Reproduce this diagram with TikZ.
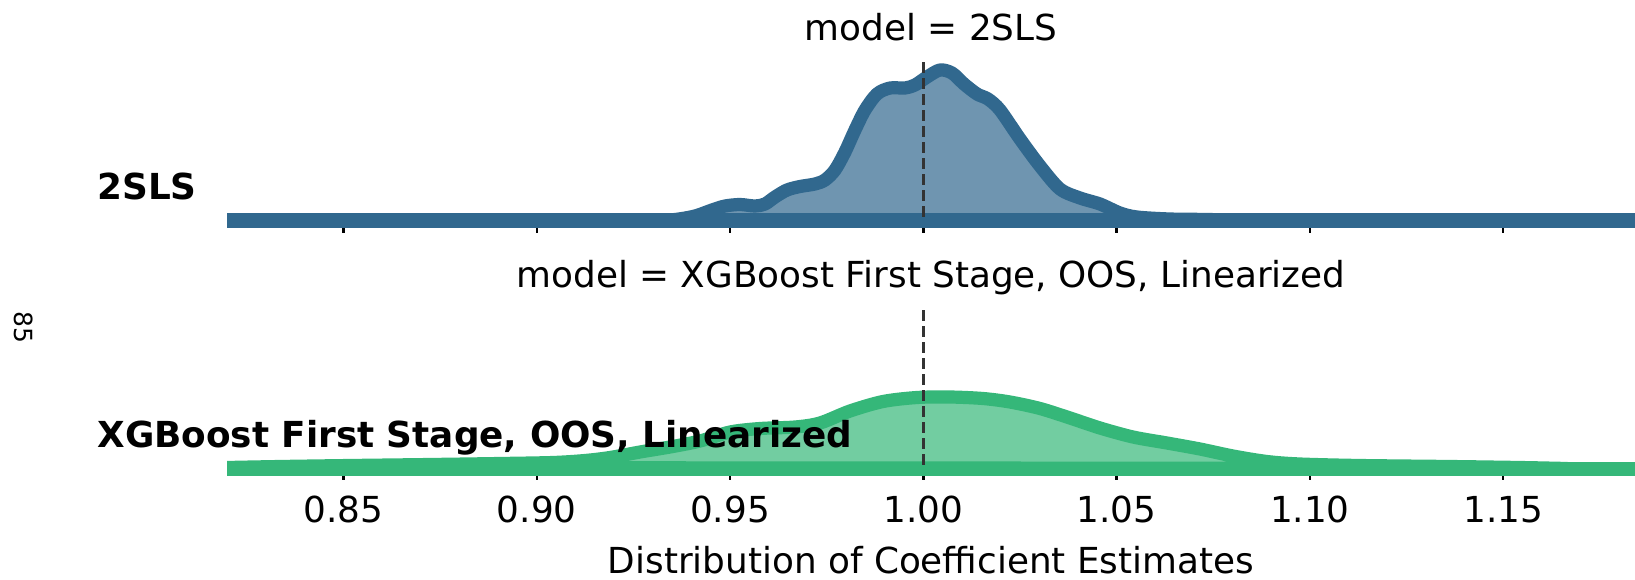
\documentclass[tikz,border=0pt]{standalone}
\usepackage{fontspec}
\setmainfont{DejaVu Sans}
\usetikzlibrary{positioning}
\definecolor{ridgeblue}{HTML}{31688E}
\definecolor{ridgebluefill}{HTML}{6F95B0}
\definecolor{ridgegreen}{HTML}{35B779}
\definecolor{ridgegreenfill}{HTML}{72CDA1}
\definecolor{refgray}{HTML}{333333}
\tikzset{
  font=\fontsize{17.9}{21}\selectfont,
  paneltitle/.style={anchor=base, inner sep=0pt},
  rowlabel/.style={anchor=base west, inner sep=0pt, font=\fontsize{17.9}{21}\selectfont\bfseries},
  ticklabel/.style={anchor=base, inner sep=0pt},
  axislabel/.style={anchor=base, inner sep=0pt},
  pagenum/.style={rotate=-90, inner sep=0pt, font=\fontsize{12.5}{15}\selectfont},
  tickmark/.style={draw=black, line width=1.2pt},
  kdeblue/.style={draw=ridgeblue, fill=ridgebluefill, line width=6.6pt, line join=round},
  kdegreen/.style={draw=ridgegreen, fill=ridgegreenfill, line width=6.6pt, line join=round},
  floorblue/.style={draw=ridgeblue, line width=7.25pt},
  floorgreen/.style={draw=ridgegreen, line width=7.25pt},
  refline/.style={draw=refgray, line width=1.5pt, dash pattern=on 5.5pt off 2.5pt}
}
\begin{document}
\begin{tikzpicture}[x=0.5pt,y=-0.5pt]
\useasboundingbox (0,0) rectangle (1635,579);

% Panel titles.
\node[paneltitle] (ttop) at (931,40) {model = 2SLS};
\node[paneltitle] (tbot) at (931,287) {model = XGBoost First Stage, OOS, Linearized};

% Tick marks, hidden under the ridge floors except their lower ends.
\foreach \x in {343.4,536.7,730.0,923.3,1116.6,1309.9,1503.2} {
  \draw[tickmark] (\x,220.5) -- (\x,233);
  \draw[tickmark] (\x,469) -- (\x,480);
}

\begin{scope}
\clip (227,0) rectangle (1635,579);
% 2SLS ridge.
\filldraw[kdeblue] plot[smooth] coordinates {(655,220.5) (675,219.5) (695,216) (712,210) (725,206)
  (740,204.5) (755,206) (765,204) (775,197) (787,190) (800,186.5) (815,184) (825,180) (835,170)
  (845,152) (855,130) (865,110) (877,94) (890,88) (905,88) (915,85) (927,77) (940,70) (952,73)
  (964,84) (977,94) (988,99) (1000,110) (1020,139) (1040,166) (1060,189) (1080,198) (1100,204)
  (1120,213) (1137,217) (1170,219) (1210,219.5) (1225,220.5)} -- cycle;
\draw[floorblue] (227,220.5) -- (1635,220.5);
\draw[refline] (923.3,62) -- (923.3,220.5);

% XGBoost ridge.
\filldraw[kdegreen] plot[smooth] coordinates {(227,467.5) (280,466.5) (350,465.5) (430,464.5)
  (500,463.5) (553,462.5) (585,460.5) (610,457.5) (640,452) (670,447) (700,441) (730,432)
  (760,428.5) (795,427) (820,423) (850,411) (883,401.5) (917,397.5) (950,397) (983,398.5)
  (1010,402) (1040,408.5) (1070,418) (1100,428) (1133,437) (1167,443) (1200,449) (1233,456)
  (1267,461.5) (1300,464) (1360,465.5) (1450,466.5) (1520,467.5) (1567,468.5)} -- cycle;
\draw[floorgreen] (227,469) -- (1635,469);
\draw[refline] (923.3,310) -- (923.3,469);
\end{scope}

% Row labels.
\node[rowlabel] (l2sls) at (97,199) {2SLS};
\node[rowlabel] (lxgb) at (97,447) {XGBoost First Stage, OOS, Linearized};

% Axis ticks and label.
\foreach \x/\lab [count=\i] in {343.4/0.85,536.7/0.90,730.0/0.95,923.3/1.00,1116.6/1.05,1309.9/1.10,1503.2/1.15}
  \node[ticklabel] (tick\i) at (\x,522) {\lab};
\node[axislabel] (xlab) at (931,573) {Distribution of Coefficient Estimates};

\node[pagenum] (pnum) at (24,327) {85};
\end{tikzpicture}
\end{document}
